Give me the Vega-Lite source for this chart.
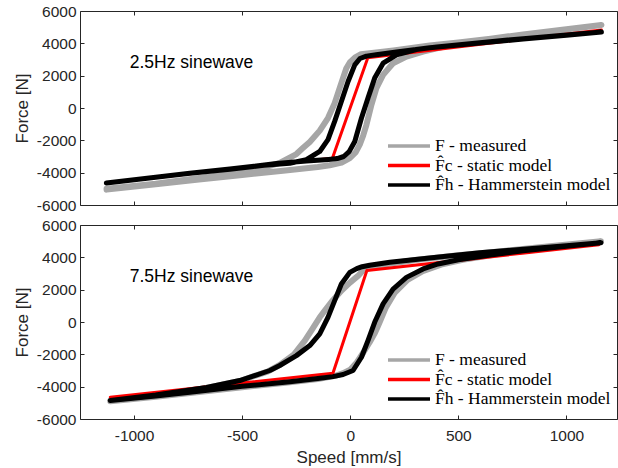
{
  "$schema": "https://vega.github.io/schema/vega-lite/v6.json",
  "padding": {"left": 12, "top": 3, "right": 0, "bottom": 0},
  "background": "white",
  "config": {
    "view": {"stroke": "#262626", "strokeWidth": 1},
    "axis": {"grid": false, "domain": false, "tickSize": -4, "tickColor": "#262626", "labelColor": "#262626", "labelFont": "Liberation Sans", "labelFontSize": 15.5, "titleFont": "Liberation Sans", "titleFontSize": 17, "titleColor": "#262626", "titleFontWeight": "normal", "labelFlush": false, "labelOverlap": false, "labelExpr": "'' + datum.value"},
    "axisY": {"labelPadding": 8, "titlePadding": 5},
    "axisX": {"labelPadding": 13, "titlePadding": 6}
  },
  "datasets": {
    "d": [
      {"p":"a","s":"F","i":1,"v":-1127,"f":-5050},{"p":"a","s":"F","i":2,"v":-900,"f":-4720},{"p":"a","s":"F","i":3,"v":-700,"f":-4420},{"p":"a","s":"F","i":4,"v":-500,"f":-4140},{"p":"a","s":"F","i":5,"v":-300,"f":-3870},{"p":"a","s":"F","i":6,"v":-150,"f":-3650},{"p":"a","s":"F","i":7,"v":-95,"f":-3540},{"p":"a","s":"F","i":8,"v":-40,"f":-3380},{"p":"a","s":"F","i":9,"v":-2,"f":-3100},{"p":"a","s":"F","i":10,"v":25,"f":-2750},{"p":"a","s":"F","i":11,"v":44,"f":-2270},{"p":"a","s":"F","i":12,"v":60,"f":-1700},{"p":"a","s":"F","i":13,"v":75,"f":-1040},{"p":"a","s":"F","i":14,"v":98,"f":200},{"p":"a","s":"F","i":15,"v":121,"f":1230},{"p":"a","s":"F","i":16,"v":152,"f":2050},{"p":"a","s":"F","i":17,"v":198,"f":2770},{"p":"a","s":"F","i":18,"v":260,"f":3180},{"p":"a","s":"F","i":19,"v":337,"f":3490},{"p":"a","s":"F","i":20,"v":420,"f":3760},{"p":"a","s":"F","i":21,"v":500,"f":4000},{"p":"a","s":"F","i":22,"v":650,"f":4250},{"p":"a","s":"F","i":23,"v":800,"f":4520},{"p":"a","s":"F","i":24,"v":1000,"f":4860},{"p":"a","s":"F","i":25,"v":1162,"f":5140},{"p":"a","s":"F","i":26,"v":1000,"f":4880},{"p":"a","s":"F","i":27,"v":800,"f":4550},{"p":"a","s":"F","i":28,"v":650,"f":4290},{"p":"a","s":"F","i":29,"v":500,"f":4060},{"p":"a","s":"F","i":30,"v":368,"f":3870},{"p":"a","s":"F","i":31,"v":200,"f":3560},{"p":"a","s":"F","i":32,"v":100,"f":3400},{"p":"a","s":"F","i":33,"v":50,"f":3330},{"p":"a","s":"F","i":34,"v":25,"f":3150},{"p":"a","s":"F","i":35,"v":0,"f":2850},{"p":"a","s":"F","i":36,"v":-18,"f":2460},{"p":"a","s":"F","i":37,"v":-49,"f":1230},{"p":"a","s":"F","i":38,"v":-72,"f":300},{"p":"a","s":"F","i":39,"v":-103,"f":-620},{"p":"a","s":"F","i":40,"v":-141,"f":-1400},{"p":"a","s":"F","i":41,"v":-187,"f":-2100},{"p":"a","s":"F","i":42,"v":-219,"f":-2480},{"p":"a","s":"F","i":43,"v":-249,"f":-2850},{"p":"a","s":"F","i":44,"v":-326,"f":-3400},{"p":"a","s":"F","i":45,"v":-403,"f":-3710},{"p":"a","s":"F","i":46,"v":-500,"f":-3980},{"p":"a","s":"F","i":47,"v":-700,"f":-4330},{"p":"a","s":"F","i":48,"v":-900,"f":-4680},{"p":"a","s":"F","i":49,"v":-1127,"f":-5000},
      {"p":"a","s":"Fc","i":1,"v":-1128,"f":-4640},{"p":"a","s":"Fc","i":2,"v":-82,"f":-3100},{"p":"a","s":"Fc","i":3,"v":81,"f":3100},{"p":"a","s":"Fc","i":4,"v":1162,"f":4830},
      {"p":"a","s":"Fh","i":1,"v":-1128,"f":-4640},{"p":"a","s":"Fh","i":2,"v":-900,"f":-4280},{"p":"a","s":"Fh","i":3,"v":-742,"f":-4030},{"p":"a","s":"Fh","i":4,"v":-557,"f":-3780},{"p":"a","s":"Fh","i":5,"v":-341,"f":-3430},{"p":"a","s":"Fh","i":6,"v":-203,"f":-3280},{"p":"a","s":"Fh","i":7,"v":-100,"f":-3180},{"p":"a","s":"Fh","i":8,"v":-60,"f":-3130},{"p":"a","s":"Fh","i":9,"v":-30,"f":-3000},{"p":"a","s":"Fh","i":10,"v":-5,"f":-2700},{"p":"a","s":"Fh","i":11,"v":21,"f":-2070},{"p":"a","s":"Fh","i":12,"v":52,"f":-620},{"p":"a","s":"Fh","i":13,"v":82,"f":610},{"p":"a","s":"Fh","i":14,"v":113,"f":1850},{"p":"a","s":"Fh","i":15,"v":152,"f":2770},{"p":"a","s":"Fh","i":16,"v":214,"f":3290},{"p":"a","s":"Fh","i":17,"v":306,"f":3620},{"p":"a","s":"Fh","i":18,"v":400,"f":3780},{"p":"a","s":"Fh","i":19,"v":600,"f":4040},{"p":"a","s":"Fh","i":20,"v":800,"f":4290},{"p":"a","s":"Fh","i":21,"v":1000,"f":4510},{"p":"a","s":"Fh","i":22,"v":1162,"f":4700},{"p":"a","s":"Fh","i":23,"v":1000,"f":4500},{"p":"a","s":"Fh","i":24,"v":800,"f":4270},{"p":"a","s":"Fh","i":25,"v":600,"f":4020},{"p":"a","s":"Fh","i":26,"v":368,"f":3730},{"p":"a","s":"Fh","i":27,"v":214,"f":3460},{"p":"a","s":"Fh","i":28,"v":120,"f":3290},{"p":"a","s":"Fh","i":29,"v":75,"f":3210},{"p":"a","s":"Fh","i":30,"v":45,"f":3060},{"p":"a","s":"Fh","i":31,"v":21,"f":2670},{"p":"a","s":"Fh","i":32,"v":-10,"f":1640},{"p":"a","s":"Fh","i":33,"v":-41,"f":400},{"p":"a","s":"Fh","i":34,"v":-72,"f":-830},{"p":"a","s":"Fh","i":35,"v":-103,"f":-1960},{"p":"a","s":"Fh","i":36,"v":-141,"f":-2690},{"p":"a","s":"Fh","i":37,"v":-203,"f":-3200},{"p":"a","s":"Fh","i":38,"v":-280,"f":-3420},{"p":"a","s":"Fh","i":39,"v":-400,"f":-3540},{"p":"a","s":"Fh","i":40,"v":-557,"f":-3790},{"p":"a","s":"Fh","i":41,"v":-742,"f":-4040},{"p":"a","s":"Fh","i":42,"v":-900,"f":-4290},{"p":"a","s":"Fh","i":43,"v":-1128,"f":-4640},
      {"p":"b","s":"F","i":1,"v":-1110,"f":-4900},{"p":"b","s":"F","i":2,"v":-900,"f":-4620},{"p":"b","s":"F","i":3,"v":-700,"f":-4330},{"p":"b","s":"F","i":4,"v":-500,"f":-4030},{"p":"b","s":"F","i":5,"v":-300,"f":-3760},{"p":"b","s":"F","i":6,"v":-150,"f":-3530},{"p":"b","s":"F","i":7,"v":-70,"f":-3330},{"p":"b","s":"F","i":8,"v":-35,"f":-3180},{"p":"b","s":"F","i":9,"v":0,"f":-2950},{"p":"b","s":"F","i":10,"v":30,"f":-2500},{"p":"b","s":"F","i":11,"v":60,"f":-1900},{"p":"b","s":"F","i":12,"v":90,"f":-1250},{"p":"b","s":"F","i":13,"v":115,"f":-650},{"p":"b","s":"F","i":14,"v":135,"f":-50},{"p":"b","s":"F","i":15,"v":165,"f":900},{"p":"b","s":"F","i":16,"v":205,"f":1800},{"p":"b","s":"F","i":17,"v":265,"f":2600},{"p":"b","s":"F","i":18,"v":335,"f":3150},{"p":"b","s":"F","i":19,"v":420,"f":3550},{"p":"b","s":"F","i":20,"v":520,"f":3850},{"p":"b","s":"F","i":21,"v":700,"f":4230},{"p":"b","s":"F","i":22,"v":900,"f":4600},{"p":"b","s":"F","i":23,"v":1160,"f":5000},{"p":"b","s":"F","i":24,"v":900,"f":4650},{"p":"b","s":"F","i":25,"v":700,"f":4380},{"p":"b","s":"F","i":26,"v":500,"f":4130},{"p":"b","s":"F","i":27,"v":300,"f":3830},{"p":"b","s":"F","i":28,"v":180,"f":3600},{"p":"b","s":"F","i":29,"v":100,"f":3400},{"p":"b","s":"F","i":30,"v":60,"f":3200},{"p":"b","s":"F","i":31,"v":36,"f":2850},{"p":"b","s":"F","i":32,"v":0,"f":2450},{"p":"b","s":"F","i":33,"v":-40,"f":1950},{"p":"b","s":"F","i":34,"v":-80,"f":1350},{"p":"b","s":"F","i":35,"v":-115,"f":750},{"p":"b","s":"F","i":36,"v":-141,"f":290},{"p":"b","s":"F","i":37,"v":-180,"f":-530},{"p":"b","s":"F","i":38,"v":-210,"f":-1150},{"p":"b","s":"F","i":39,"v":-260,"f":-2000},{"p":"b","s":"F","i":40,"v":-326,"f":-2650},{"p":"b","s":"F","i":41,"v":-380,"f":-3050},{"p":"b","s":"F","i":42,"v":-511,"f":-3650},{"p":"b","s":"F","i":43,"v":-665,"f":-4080},{"p":"b","s":"F","i":44,"v":-900,"f":-4560},{"p":"b","s":"F","i":45,"v":-1110,"f":-4880},
      {"p":"b","s":"Fc","i":1,"v":-1110,"f":-4650},{"p":"b","s":"Fc","i":2,"v":-80,"f":-3170},{"p":"b","s":"Fc","i":3,"v":77,"f":3180},{"p":"b","s":"Fc","i":4,"v":1150,"f":4780},
      {"p":"b","s":"Fh","i":1,"v":-1110,"f":-4850},{"p":"b","s":"Fh","i":2,"v":-900,"f":-4580},{"p":"b","s":"Fh","i":3,"v":-742,"f":-4340},{"p":"b","s":"Fh","i":4,"v":-500,"f":-3980},{"p":"b","s":"Fh","i":5,"v":-279,"f":-3700},{"p":"b","s":"Fh","i":6,"v":-150,"f":-3500},{"p":"b","s":"Fh","i":7,"v":-80,"f":-3380},{"p":"b","s":"Fh","i":8,"v":-33,"f":-3250},{"p":"b","s":"Fh","i":9,"v":13,"f":-3000},{"p":"b","s":"Fh","i":10,"v":52,"f":-2180},{"p":"b","s":"Fh","i":11,"v":82,"f":-1150},{"p":"b","s":"Fh","i":12,"v":113,"f":-20},{"p":"b","s":"Fh","i":13,"v":152,"f":1120},{"p":"b","s":"Fh","i":14,"v":198,"f":2040},{"p":"b","s":"Fh","i":15,"v":260,"f":2760},{"p":"b","s":"Fh","i":16,"v":337,"f":3280},{"p":"b","s":"Fh","i":17,"v":406,"f":3590},{"p":"b","s":"Fh","i":18,"v":500,"f":3850},{"p":"b","s":"Fh","i":19,"v":650,"f":4150},{"p":"b","s":"Fh","i":20,"v":800,"f":4400},{"p":"b","s":"Fh","i":21,"v":1000,"f":4680},{"p":"b","s":"Fh","i":22,"v":1160,"f":4900},{"p":"b","s":"Fh","i":23,"v":1000,"f":4720},{"p":"b","s":"Fh","i":24,"v":800,"f":4500},{"p":"b","s":"Fh","i":25,"v":600,"f":4280},{"p":"b","s":"Fh","i":26,"v":399,"f":4000},{"p":"b","s":"Fh","i":27,"v":183,"f":3690},{"p":"b","s":"Fh","i":28,"v":90,"f":3510},{"p":"b","s":"Fh","i":29,"v":55,"f":3420},{"p":"b","s":"Fh","i":30,"v":30,"f":3300},{"p":"b","s":"Fh","i":31,"v":-2,"f":3070},{"p":"b","s":"Fh","i":32,"v":-41,"f":2350},{"p":"b","s":"Fh","i":33,"v":-72,"f":1320},{"p":"b","s":"Fh","i":34,"v":-103,"f":290},{"p":"b","s":"Fh","i":35,"v":-141,"f":-740},{"p":"b","s":"Fh","i":36,"v":-187,"f":-1460},{"p":"b","s":"Fh","i":37,"v":-249,"f":-2080},{"p":"b","s":"Fh","i":38,"v":-326,"f":-2690},{"p":"b","s":"Fh","i":39,"v":-372,"f":-3000},{"p":"b","s":"Fh","i":40,"v":-511,"f":-3620},{"p":"b","s":"Fh","i":41,"v":-665,"f":-4050},{"p":"b","s":"Fh","i":42,"v":-900,"f":-4520},{"p":"b","s":"Fh","i":43,"v":-1110,"f":-4850}
    ]
  },
  "spacing": 3,
  "resolve": {"scale": {"color": "independent"}, "legend": {"color": "independent"}},
  "vconcat": [
    {
      "width": 537, "height": 194,
      "data": {"name": "d"},
      "resolve": {"axis": {"x": "independent", "y": "independent"}},
      "layer": [
        {
          "transform": [{"filter": "datum.p == 'a' && datum.s == 'F'"}],
          "mark": {"type": "line", "strokeWidth": 6, "strokeJoin": "round", "strokeCap": "round"},
          "encoding": {
            "x": {"field": "v", "type": "quantitative", "scale": {"domain": [-1250, 1234], "nice": false, "zero": false}, "axis": {"orient": "bottom", "values": [-1000, -500, 0, 500, 1000], "labels": false, "title": null}},
            "y": {"field": "f", "type": "quantitative", "scale": {"domain": [-6000, 6000], "nice": false, "zero": false}, "axis": {"orient": "left", "values": [-6000, -4000, -2000, 0, 2000, 4000, 6000], "title": "Force [N]"}},
            "color": {"field": "s", "type": "nominal", "scale": {"domain": ["F", "Fc", "Fh"], "range": ["#a6a6a6", "#ff0000", "#000000"]},
              "legend": {"orient": "none", "legendX": 320, "legendY": 126, "title": null, "padding": 0, "symbolType": "M-3,0H3", "symbolSize": 196, "symbolStrokeWidth": 3.5, "labelFont": "Liberation Serif", "labelFontSize": 17.5, "labelColor": "#000000", "labelOffset": 17, "labelLimit": 300, "rowPadding": 1.5,
                "labelExpr": "datum.label == 'F' ? 'F - measured' : datum.label == 'Fc' ? 'F̂c - static model' : 'F̂h - Hammerstein model'"}},
            "order": {"field": "i", "type": "quantitative"}
          }
        },
        {
          "transform": [{"filter": "datum.p == 'a' && datum.s == 'Fc'"}],
          "mark": {"type": "line", "strokeWidth": 3, "strokeJoin": "round", "strokeCap": "round"},
          "encoding": {
            "x": {"field": "v", "type": "quantitative", "axis": {"orient": "top", "values": [-1000, -500, 0, 500, 1000], "labels": false, "title": null}},
            "y": {"field": "f", "type": "quantitative", "axis": {"orient": "right", "values": [-6000, -4000, -2000, 0, 2000, 4000, 6000], "labels": false, "title": null}},
            "color": {"field": "s", "type": "nominal"},
            "order": {"field": "i", "type": "quantitative"}
          }
        },
        {
          "transform": [{"filter": "datum.p == 'a' && datum.s == 'Fh'"}],
          "mark": {"type": "line", "strokeWidth": 5, "strokeJoin": "round", "strokeCap": "round"},
          "encoding": {
            "x": {"field": "v", "type": "quantitative", "axis": null},
            "y": {"field": "f", "type": "quantitative", "axis": null},
            "color": {"field": "s", "type": "nominal"},
            "order": {"field": "i", "type": "quantitative"}
          }
        },
        {
          "data": {"values": [{}]},
          "mark": {"type": "text", "align": "left", "baseline": "middle", "font": "Liberation Sans", "fontSize": 17.5, "color": "#000000"},
          "encoding": {
            "x": {"datum": -1020, "type": "quantitative", "axis": null},
            "y": {"datum": 2790, "type": "quantitative", "axis": null},
            "text": {"value": "2.5Hz sinewave"}
          }
        }
      ]
    },
    {
      "width": 537, "height": 194,
      "data": {"name": "d"},
      "resolve": {"axis": {"x": "independent", "y": "independent"}},
      "layer": [
        {
          "transform": [{"filter": "datum.p == 'b' && datum.s == 'F'"}],
          "mark": {"type": "line", "strokeWidth": 6, "strokeJoin": "round", "strokeCap": "round"},
          "encoding": {
            "x": {"field": "v", "type": "quantitative", "scale": {"domain": [-1250, 1234], "nice": false, "zero": false}, "axis": {"orient": "bottom", "values": [-1000, -500, 0, 500, 1000], "title": "Speed [mm/s]"}},
            "y": {"field": "f", "type": "quantitative", "scale": {"domain": [-6000, 6000], "nice": false, "zero": false}, "axis": {"orient": "left", "values": [-6000, -4000, -2000, 0, 2000, 4000, 6000], "title": "Force [N]"}},
            "color": {"field": "s", "type": "nominal", "scale": {"domain": ["F", "Fc", "Fh"], "range": ["#a6a6a6", "#ff0000", "#000000"]},
              "legend": {"orient": "none", "legendX": 320, "legendY": 126, "title": null, "padding": 0, "symbolType": "M-3,0H3", "symbolSize": 196, "symbolStrokeWidth": 3.5, "labelFont": "Liberation Serif", "labelFontSize": 17.5, "labelColor": "#000000", "labelOffset": 17, "labelLimit": 300, "rowPadding": 1.5,
                "labelExpr": "datum.label == 'F' ? 'F - measured' : datum.label == 'Fc' ? 'F̂c - static model' : 'F̂h - Hammerstein model'"}},
            "order": {"field": "i", "type": "quantitative"}
          }
        },
        {
          "transform": [{"filter": "datum.p == 'b' && datum.s == 'Fc'"}],
          "mark": {"type": "line", "strokeWidth": 3, "strokeJoin": "round", "strokeCap": "round"},
          "encoding": {
            "x": {"field": "v", "type": "quantitative", "axis": {"orient": "top", "values": [-1000, -500, 0, 500, 1000], "labels": false, "title": null}},
            "y": {"field": "f", "type": "quantitative", "axis": {"orient": "right", "values": [-6000, -4000, -2000, 0, 2000, 4000, 6000], "labels": false, "title": null}},
            "color": {"field": "s", "type": "nominal"},
            "order": {"field": "i", "type": "quantitative"}
          }
        },
        {
          "transform": [{"filter": "datum.p == 'b' && datum.s == 'Fh'"}],
          "mark": {"type": "line", "strokeWidth": 5, "strokeJoin": "round", "strokeCap": "round"},
          "encoding": {
            "x": {"field": "v", "type": "quantitative", "axis": null},
            "y": {"field": "f", "type": "quantitative", "axis": null},
            "color": {"field": "s", "type": "nominal"},
            "order": {"field": "i", "type": "quantitative"}
          }
        },
        {
          "data": {"values": [{}]},
          "mark": {"type": "text", "align": "left", "baseline": "middle", "font": "Liberation Sans", "fontSize": 17.5, "color": "#000000"},
          "encoding": {
            "x": {"datum": -1020, "type": "quantitative", "axis": null},
            "y": {"datum": 2790, "type": "quantitative", "axis": null},
            "text": {"value": "7.5Hz sinewave"}
          }
        }
      ]
    }
  ]
}
